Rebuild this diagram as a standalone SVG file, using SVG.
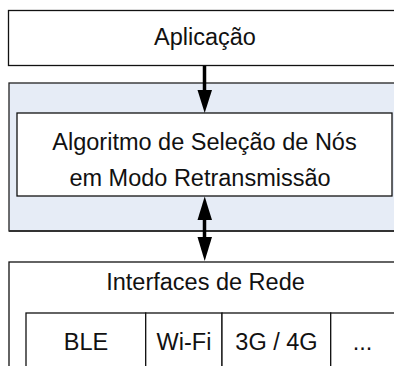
<svg xmlns="http://www.w3.org/2000/svg" width="394" height="366" viewBox="0 0 394 366">
  <style>
    .box { fill: #ffffff; stroke: #111111; stroke-width: 1.3; }
    .layer { fill: #E6ECF6; stroke: #222222; stroke-width: 1.3; }
    .lbl { font-family: "Liberation Sans", Arial, sans-serif; font-size: 23.5px; fill: #111111; text-anchor: middle; }
    .conn { stroke: #000000; stroke-width: 3.5; fill: none; }
    .head { fill: #000000; }
  </style>
  <rect width="394" height="366" fill="#ffffff"/>

  <g id="aplicacao">
    <rect class="box" x="8.5" y="10.5" width="400" height="55"/>
    <text class="lbl" x="205" y="45">Aplicação</text>
  </g>

  <g id="camada-algoritmo">
    <rect class="layer" x="9" y="83" width="400" height="148"/>
    <line x1="9" y1="231" x2="400" y2="231" stroke="#333333" stroke-width="2.2"/>
  </g>

  <g id="algoritmo">
    <rect class="box" x="17" y="113" width="375" height="83"/>
    <text class="lbl" x="204.5" y="150">Algoritmo de Seleção de Nós</text>
    <text class="lbl" x="200" y="185.7">em Modo Retransmissão</text>
  </g>

  <g id="interfaces">
    <rect class="box" x="9" y="262" width="400" height="130"/>
    <text class="lbl" x="205.5" y="290">Interfaces de Rede</text>
  </g>

  <g id="ble">
    <rect class="box" x="26" y="313" width="119.7" height="70"/>
    <text class="lbl" x="86" y="350">BLE</text>
  </g>
  <g id="wifi">
    <rect class="box" x="145.7" y="313" width="76.3" height="70"/>
    <text class="lbl" x="184" y="350">Wi-Fi</text>
  </g>
  <g id="celular">
    <rect class="box" x="222" y="313" width="108.7" height="70"/>
    <text class="lbl" x="276.5" y="350">3G / 4G</text>
  </g>
  <g id="outros">
    <rect class="box" x="330.7" y="313" width="90" height="70"/>
    <text class="lbl" x="362.5" y="350">...</text>
  </g>

  <g id="connectors">
    <line class="conn" x1="204.5" y1="66" x2="204.5" y2="92"/>
    <polygon class="head" points="197.5,90 212,90 204.7,113"/>
    <line class="conn" x1="204.5" y1="218" x2="204.5" y2="239"/>
    <polygon class="head" points="204.7,196.5 212,220 197.5,220"/>
    <polygon class="head" points="197.5,237 212,237 204.7,261"/>
  </g>
</svg>
